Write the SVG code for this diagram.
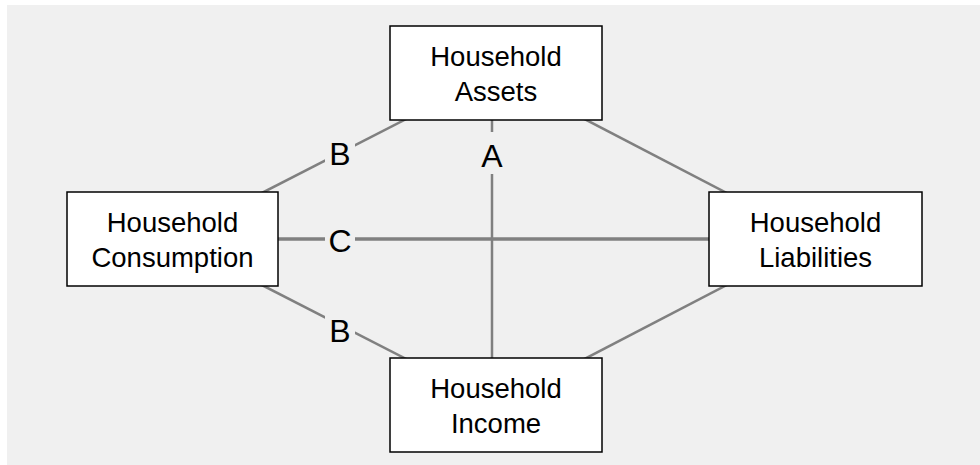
<svg xmlns="http://www.w3.org/2000/svg" width="980" height="465" viewBox="0 0 980 465">
<style>
.box{fill:#fff;stroke:#000;stroke-width:1.5}
.t{font-family:"Liberation Sans",Arial,sans-serif;font-size:27.5px;fill:#000;text-anchor:middle}
.l{font-family:"Liberation Sans",Arial,sans-serif;font-size:32px;fill:#000;text-anchor:middle}
.ln{stroke:#808080;stroke-width:2.5;fill:none}
.lb{fill:#f0f0f0}
</style>
<rect width="980" height="465" fill="#fff"/>
<rect x="7" y="5" width="973" height="460" fill="#f0f0f0"/>
<g id="connectors">
<line class="ln" x1="496" y1="73" x2="172" y2="239"/>
<line class="ln" x1="496" y1="73" x2="815" y2="239"/>
<line class="ln" x1="496" y1="405" x2="815" y2="239"/>
<line class="ln" x1="172" y1="239" x2="496" y2="405"/>
<line class="ln" x1="278" y1="239" x2="709" y2="239" style="stroke-width:3.5"/>
<line class="ln" x1="492" y1="120" x2="492" y2="358"/>
<rect class="lb" x="325" y="138" width="30" height="31"/>
<text class="l" x="340" y="165">B</text>
<rect class="lb" x="325" y="315" width="30" height="31"/>
<text class="l" x="340" y="342">B</text>
<rect class="lb" x="325" y="227" width="30" height="30"/>
<text class="l" x="340" y="252">C</text>
<rect class="lb" x="478" y="132" width="28" height="42"/>
<text class="l" x="492" y="167">A</text>
</g>
<g id="assets">
<rect class="box" x="390" y="26" width="212" height="94"/>
<text class="t" x="496" y="66">Household</text>
<text class="t" x="496" y="101">Assets</text>
</g>
<g id="consumption">
<rect class="box" x="67" y="192" width="211" height="94"/>
<text class="t" x="172.5" y="232">Household</text>
<text class="t" x="172.5" y="267">Consumption</text>
</g>
<g id="liabilities">
<rect class="box" x="709" y="192" width="213" height="94"/>
<text class="t" x="815.5" y="232">Household</text>
<text class="t" x="815.5" y="267">Liabilities</text>
</g>
<g id="income">
<rect class="box" x="390" y="358" width="212" height="94"/>
<text class="t" x="496" y="398">Household</text>
<text class="t" x="496" y="433">Income</text>
</g>
</svg>
